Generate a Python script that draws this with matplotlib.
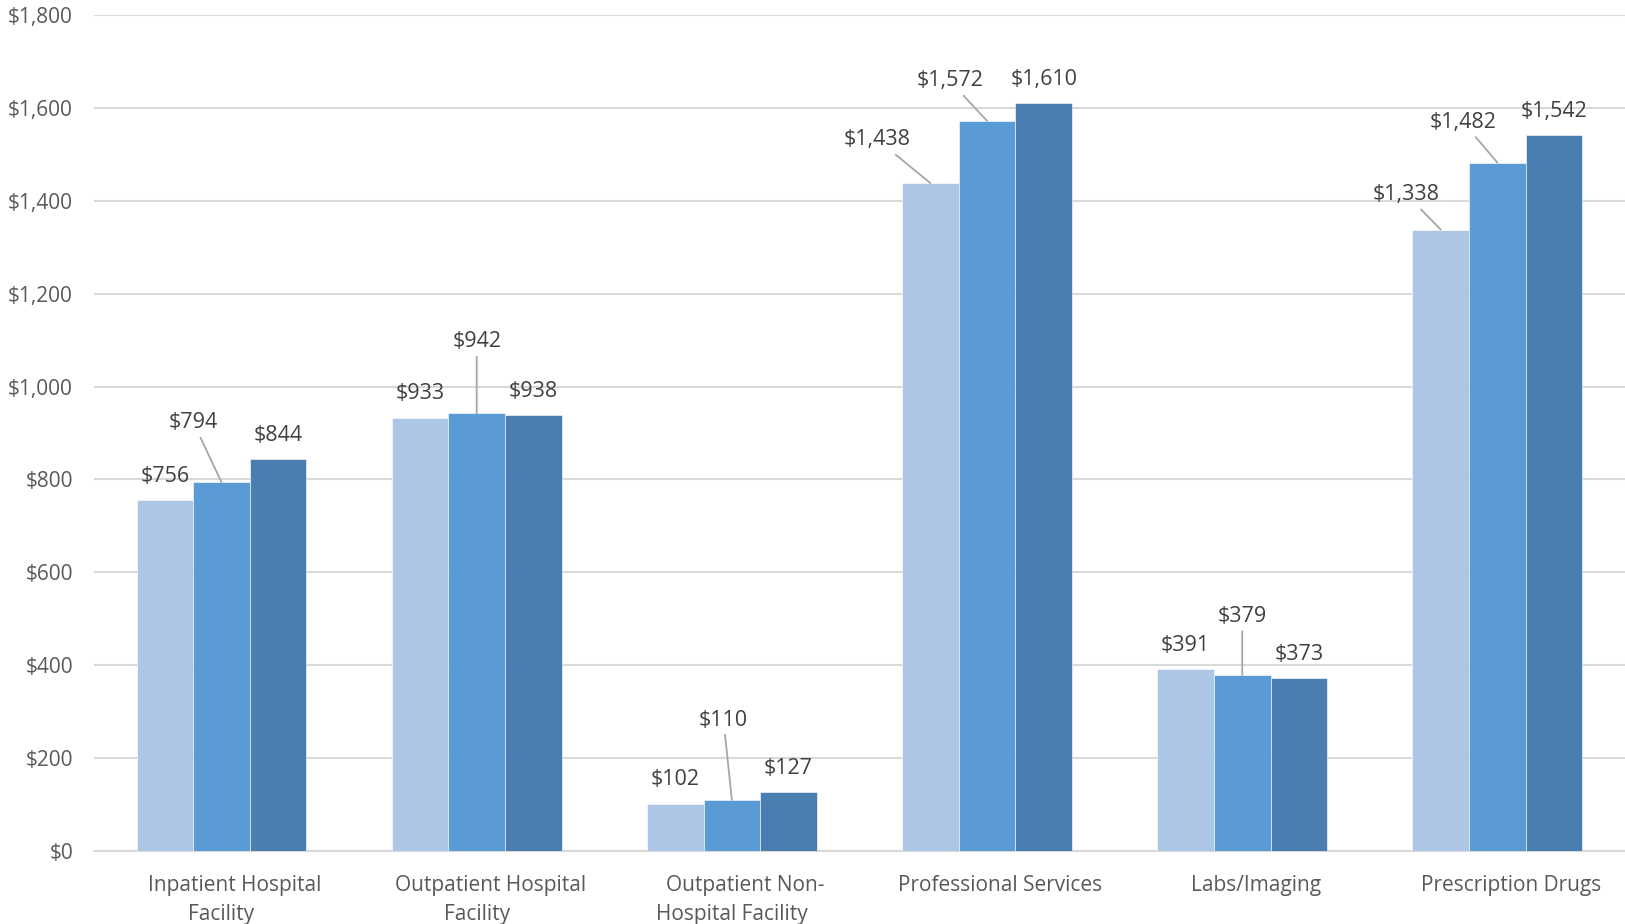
import matplotlib
matplotlib.use("Agg")
import matplotlib.pyplot as plt
import numpy as np

plt.rcParams['font.family'] = ['Open Sans', 'DejaVu Sans']

categories = ["Inpatient Hospital\nFacility", "Outpatient Hospital\nFacility",
              "Outpatient Non-\nHospital Facility", "Professional Services",
              "Labs/Imaging", "Prescription Drugs"]
series_a = [756, 933, 102, 1438, 391, 1338]
series_b = [794, 942, 110, 1572, 379, 1482]
series_c = [844, 938, 127, 1610, 373, 1542]
y_ticks = [0, 200, 400, 600, 800, 1000, 1200, 1400, 1600, 1800]

colors = ["#AEC6E5", "#5B9BD5", "#4A7EB0"]
label_color = "#404040"
axis_text_color = "#595959"
grid_color = "#D9D9D9"

# labels that are moved off their bar and joined to it by a leader line:
# (category index, series index, x shift in category units, y offset in $)
moved = {
    (0, 1): (-0.11, 128),
    (1, 1): (0.0, 154),
    (2, 1): (-0.033, 172),
    (3, 0): (-0.207, 93),
    (3, 1): (-0.146, 86),
    (4, 1): (0.0, 126),
    (5, 0): (-0.134, 75),
    (5, 1): (-0.134, 87),
}

fig = plt.figure(figsize=(16.25, 9.24), dpi=100)
ax = fig.add_axes([0.0578, 0.079, 0.9422, 0.9048])

x = np.arange(len(categories))
w = 0.222
label_size = 15.5
all_series = [series_a, series_b, series_c]
for s, (vals, c) in enumerate(zip(all_series, colors)):
    pos = x + (s - 1) * w
    ax.bar(pos, vals, width=w, color=c, edgecolor="white", linewidth=0.4, zorder=3)
    for i, v in enumerate(vals):
        txt = f"${v:,}"
        if (i, s) in moved:
            dx, dy = moved[(i, s)]
            ax.annotate(txt, xy=(pos[i], v), xytext=(pos[i] + dx, v + dy),
                        ha="center", va="center", fontsize=label_size, color=label_color,
                        bbox=dict(boxstyle="square,pad=0.2", fc="none", ec="none"),
                        arrowprops=dict(arrowstyle="-", color="#A6A6A6", lw=1.3,
                                        shrinkA=0, shrinkB=0),
                        zorder=4)
        else:
            ax.text(pos[i], v + 51, txt, ha="center", va="center",
                    fontsize=label_size, color=label_color, zorder=4)

ax.set_xlim(-0.5, len(categories) - 0.5)
ax.set_ylim(0, 1800)
ax.set_yticks(y_ticks)
ax.set_yticklabels([f"${t:,}" for t in y_ticks])
ax.set_xticks(x)
ax.set_xticklabels([])

# category names: first line sits a little right of the group centre
for xi, name in zip(x, categories):
    lines = name.split("\n")
    for k, line in enumerate(lines):
        ax.annotate(line, xy=(xi, 0), xycoords=("data", "axes fraction"),
                    xytext=(9.7 if k == 0 else 0, -24.5 - 21 * k),
                    textcoords="offset points", ha="center", va="center",
                    fontsize=15, color=axis_text_color, annotation_clip=False)

ax.yaxis.grid(True, color=grid_color, linewidth=1.5, zorder=0)
ax.set_axisbelow(True)
for sp in ["top", "right", "left"]:
    ax.spines[sp].set_visible(False)
ax.spines["bottom"].set_color(grid_color)
ax.spines["bottom"].set_linewidth(1.5)
ax.spines["bottom"].set_zorder(2)
ax.tick_params(axis="both", length=0, labelsize=15, colors=axis_text_color)
ax.tick_params(axis="y", pad=15)

fig.savefig("out.png", dpi=100)
